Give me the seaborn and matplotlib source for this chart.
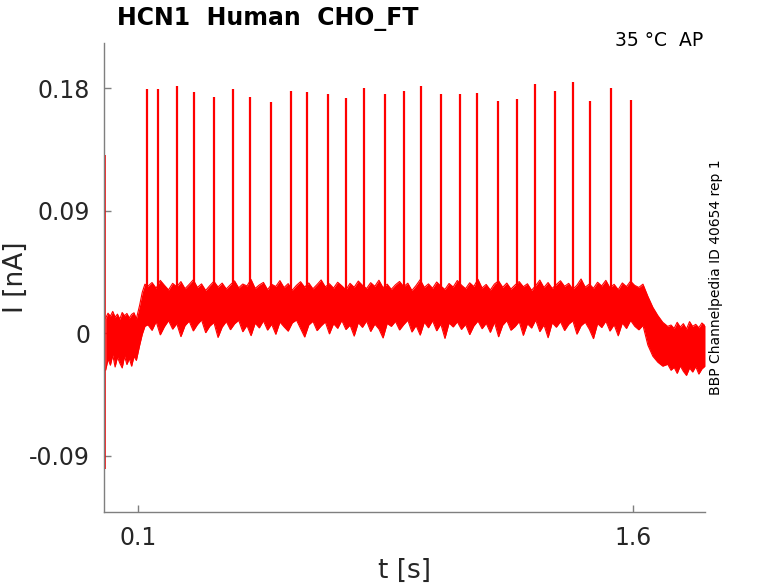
import numpy as np
import pandas as pd
import matplotlib
matplotlib.use("Agg")
import matplotlib.pyplot as plt
import seaborn as sns

# ---------------- data ----------------
# Noise-band envelope, in segments: (start time, end time) and edge values [nA]
pre_span = (0.002, 0.095)
pre_upper = [0.0110, 0.0147, 0.0125, 0.0160, 0.0118, 0.0140, 0.0103, 0.0152,
             0.0128, 0.0145, 0.0112, 0.0138, 0.0150, 0.0105]
pre_lower = [-0.0272, -0.0190, -0.0235, -0.0160, -0.0248, -0.0175, -0.0220, -0.0255,
             -0.0168, -0.0230, -0.0185, -0.0242, -0.0170, -0.0200]

rise_t = [0.105, 0.113, 0.121]
rise_upper = [0.0206, 0.0301, 0.0360]
rise_lower = [-0.0088, -0.0007, 0.0051]

plateau_span = (0.130, 1.630)
plateau_upper = [
    0.0345, 0.0372, 0.0330, 0.0388, 0.0352, 0.0318, 0.0366, 0.0341, 0.0379, 0.0327,
    0.0358, 0.0392, 0.0336, 0.0362, 0.0314, 0.0349, 0.0381, 0.0339, 0.0368, 0.0325,
    0.0356, 0.0384, 0.0333, 0.0361, 0.0347, 0.0395, 0.0329, 0.0354, 0.0373, 0.0320,
    0.0359, 0.0343, 0.0386, 0.0335, 0.0364, 0.0316, 0.0351, 0.0378, 0.0338, 0.0369,
    0.0326, 0.0357, 0.0391, 0.0340, 0.0363, 0.0331, 0.0374, 0.0348, 0.0319, 0.0366,
    0.0337, 0.0383, 0.0352, 0.0328, 0.0371, 0.0344, 0.0389, 0.0334, 0.0360, 0.0322,
    0.0355, 0.0380, 0.0342, 0.0367, 0.0313, 0.0350, 0.0393, 0.0336, 0.0362, 0.0330,
    0.0376, 0.0346, 0.0321, 0.0365, 0.0339, 0.0387, 0.0353, 0.0327, 0.0370, 0.0343,
    0.0396, 0.0332, 0.0358, 0.0317, 0.0361, 0.0384, 0.0337, 0.0368, 0.0324, 0.0354,
    0.0379, 0.0341, 0.0363, 0.0315, 0.0349, 0.0390, 0.0335, 0.0372, 0.0329, 0.0357,
    0.0385, 0.0344, 0.0366, 0.0323, 0.0352, 0.0398, 0.0338, 0.0361, 0.0330, 0.0374,
    0.0347, 0.0388, 0.0333, 0.0359, 0.0320, 0.0369, 0.0342, 0.0382, 0.0351, 0.0336, 0.0360]
plateau_lower = [
    0.0062, 0.0021, 0.0085, -0.0012, 0.0048, 0.0093, 0.0030, 0.0071, -0.0025, 0.0056,
    0.0089, 0.0017, 0.0064, 0.0098, 0.0004, 0.0052, 0.0079, -0.0031, 0.0045, 0.0086,
    0.0026, 0.0069, 0.0095, 0.0011, 0.0058, -0.0018, 0.0074, 0.0039, 0.0091, 0.0023,
    0.0066, -0.0008, 0.0082, 0.0047, 0.0015, 0.0076, 0.0097, 0.0034, -0.0028, 0.0061,
    0.0088, 0.0019, 0.0054, 0.0083, -0.0005, 0.0070, 0.0036, 0.0094, 0.0027, 0.0060,
    -0.0021, 0.0078, 0.0043, 0.0090, 0.0013, 0.0067, 0.0031, -0.0035, 0.0072, 0.0050,
    0.0087, 0.0024, 0.0063, 0.0096, 0.0009, 0.0057, -0.0014, 0.0081, 0.0040, 0.0092,
    0.0018, 0.0068, -0.0038, 0.0075, 0.0046, 0.0084, 0.0028, 0.0065, -0.0010, 0.0053,
    0.0090, 0.0033, 0.0073, 0.0006, 0.0080, -0.0026, 0.0059, 0.0093, 0.0022, 0.0049,
    0.0086, -0.0016, 0.0070, 0.0038, 0.0097, 0.0012, 0.0062, -0.0033, 0.0077, 0.0044,
    0.0085, 0.0020, 0.0066, 0.0092, -0.0007, 0.0055, 0.0081, 0.0029, -0.0040, 0.0071,
    0.0042, 0.0089, 0.0016, 0.0063, -0.0019, 0.0076, 0.0035, 0.0094, 0.0051, 0.0025, 0.0058]

decay_t = [1.645, 1.660, 1.675, 1.690, 1.705]
decay_upper = [0.0270, 0.0190, 0.0130, 0.0080, 0.0050]
decay_lower = [-0.0088, -0.0169, -0.0213, -0.0242, -0.0228]

post_span = (1.715, 1.818)
post_upper = [0.0060, 0.0035, 0.0080, 0.0045, 0.0070, 0.0030, 0.0085, 0.0050,
              0.0065, 0.0040, 0.0075, 0.0055]
post_lower = [-0.0272, -0.0250, -0.0295, -0.0240, -0.0280, -0.0310, -0.0255, -0.0285,
              -0.0245, -0.0300, -0.0262, -0.0242]

# action-potential-like spikes: time [s] and peak [nA]
spike_t = [0.1264, 0.1615, 0.2182, 0.2697, 0.3303, 0.3870, 0.4385, 0.5030, 0.5627,
           0.6130, 0.6748, 0.7312, 0.7839, 0.8476, 0.9061, 0.9576, 1.0182, 1.0758,
           1.1273, 1.1909, 1.2494, 1.3021, 1.3627, 1.4182, 1.4706, 1.5342, 1.5939]
spike_peak = [0.1791, 0.1791, 0.1815, 0.1769, 0.1732, 0.1791, 0.1732, 0.1699, 0.1778,
              0.1769, 0.1754, 0.1724, 0.1798, 0.1756, 0.1782, 0.1815, 0.1754, 0.1756,
              0.1761, 0.1705, 0.1722, 0.1830, 0.1778, 0.1844, 0.1707, 0.1798, 0.1714]
spike_base = 0.028

# initial capacitive transient
transient_t = [0.001]
transient_min = [-0.100]
transient_max = [0.131]

x_ticks = [0.1, 1.6]
x_tick_labels = ["0.1", "1.6"]
y_ticks = [-0.09, 0, 0.09, 0.18]
y_tick_labels = ["-0.09", "0", "0.09", "0.18"]

title_text = "HCN1  Human  CHO_FT"
temp_text = "35 °C  AP"
side_text = "BBP Channelpedia ID 40654 rep 1"

# ---------------- assemble the band (uniform sampling inside each segment) ----------------
band_t = (list(np.linspace(*pre_span, len(pre_upper))) + rise_t +
          list(np.linspace(*plateau_span, len(plateau_upper))) + decay_t +
          list(np.linspace(*post_span, len(post_upper))))
band_upper = pre_upper + rise_upper + plateau_upper + decay_upper + post_upper
band_lower = pre_lower + rise_lower + plateau_lower + decay_lower + post_lower
band = pd.DataFrame({"t": band_t, "upper": band_upper, "lower": band_lower})

# ---------------- plotting ----------------
sns.set_theme(style="ticks")
plt.rcParams["font.family"] = ["DejaVu Sans"]

fig = plt.figure(figsize=(7.78, 5.83), dpi=100)
ax = fig.add_axes([104 / 778, 1 - 512 / 583, (705 - 104) / 778, (512 - 43) / 583])

red = "#ff0000"
ax.fill_between(band["t"], band["lower"], band["upper"], color=red, lw=0)
sns.lineplot(data=band, x="t", y="upper", ax=ax, color=red, lw=0.8)
sns.lineplot(data=band, x="t", y="lower", ax=ax, color=red, lw=0.8)

ax.vlines(spike_t, spike_base, spike_peak, color=red, lw=1.6)
ax.vlines(transient_t, transient_min, transient_max, color=red, lw=1.2)

ax.set_xlim(-0.003, 1.818)
ax.set_ylim(-0.1313, 0.2131)
ax.set_xticks(x_ticks)
ax.set_xticklabels(x_tick_labels)
ax.set_yticks(y_ticks)
ax.set_yticklabels(y_tick_labels)

for side in ["top", "right"]:
    ax.spines[side].set_visible(False)
for side in ["left", "bottom"]:
    ax.spines[side].set_color("#7f7f7f")
    ax.spines[side].set_linewidth(1.0)
ax.tick_params(direction="in", length=5, width=1, colors="#7f7f7f",
               labelcolor="#262626", labelsize=17, pad=10)

ax.set_xlabel("t [s]", fontsize=19, color="#262626", labelpad=6)
ax.set_ylabel("I [nA]", fontsize=19, color="#262626")
ax.yaxis.set_label_coords(-0.125, 0.5)

fig.text(117 / 778, 1 - 19 / 583, title_text, fontsize=17, fontweight="bold",
         color="black", ha="left", va="center")
fig.text(703 / 778, 1 - 40 / 583, temp_text, fontsize=13.5, color="black",
         ha="right", va="center")
fig.text(716 / 778, 1 - 277 / 583, side_text, fontsize=10, color="black",
         rotation=90, ha="center", va="center")

fig.savefig("out.png", dpi=100)
